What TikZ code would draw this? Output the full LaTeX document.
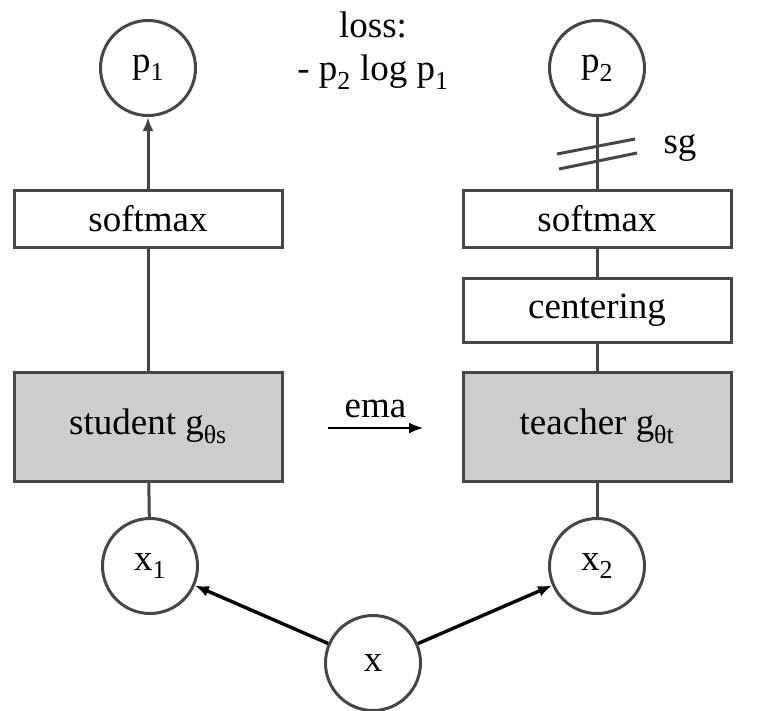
\documentclass[tikz,border=0pt]{standalone}
\usepackage{fontspec}
\setmainfont{Liberation Serif}
\usetikzlibrary{arrows.meta}
\definecolor{edge}{RGB}{70,70,70}
\definecolor{net}{RGB}{205,205,205}
\begin{document}
\begin{tikzpicture}[x=1pt,y=-1pt,
    every node/.style={font=\fontsize{37}{44}\selectfont},
    blob/.style={circle,draw=edge,line width=3pt,minimum size=95pt,inner sep=0pt},
    op/.style={draw=edge,line width=3pt,minimum width=268pt,minimum height=57pt,inner sep=0pt},
    body/.style={op,fill=net,minimum height=109pt},
    wire/.style={draw=edge,line width=3pt},
    tip/.style={-{Latex[length=14pt,width=11pt]}}]
    \useasboundingbox (0,0) rectangle (757,710);
    % student side
    \node[blob] (p1) at (148,68) {p\textsubscript{1}};
    \node[op] (smS) at (148,218.5) {softmax};
    \node[body] (stu) at (148,426.5) {student g\textsubscript{θs}};
    \node[blob] (x1) at (150,566) {x\textsubscript{1}};
    % teacher side
    \node[blob] (p2) at (597,68) {p\textsubscript{2}};
    \node[op] (smT) at (597,218.5) {softmax};
    \node[op,minimum height=64pt] (cen) at (597,310) {centering};
    \node[body] (tea) at (597,426.5) {teacher g\textsubscript{θt}};
    \node[blob] (x2) at (597,566) {x\textsubscript{2}};
    \node[blob] (x) at (373,663) {x};
    % loss
    \node (loss) at (373,25) {loss:};
    \node (lossf) at (373,72) {- p\textsubscript{2} log p\textsubscript{1}};
    % connectors
    \draw[wire,tip] (smS) -- (p1);
    \draw[wire] (stu) -- (smS);
    \draw[wire] (x1) -- (stu);
    \draw[wire] (smT) -- (p2);
    \draw[wire] (cen) -- (smT);
    \draw[wire] (tea) -- (cen);
    \draw[wire] (x2) -- (tea);
    \draw[line width=3.4pt,tip] (x) -- (x1);
    \draw[line width=3.4pt,tip] (x) -- (x2);
    % stop-gradient
    \draw[wire] (557,154) -- (635,139);
    \draw[wire] (559,169) -- (637,153);
    \node (sg) at (680,148) {sg};
    % ema
    \coordinate (emaA) at (328,428);
    \coordinate (emaB) at (423,428);
    \draw[line width=1.6pt,tip] (emaA) -- (emaB) node[midway,above=6pt] {ema};
\end{tikzpicture}
\end{document}
